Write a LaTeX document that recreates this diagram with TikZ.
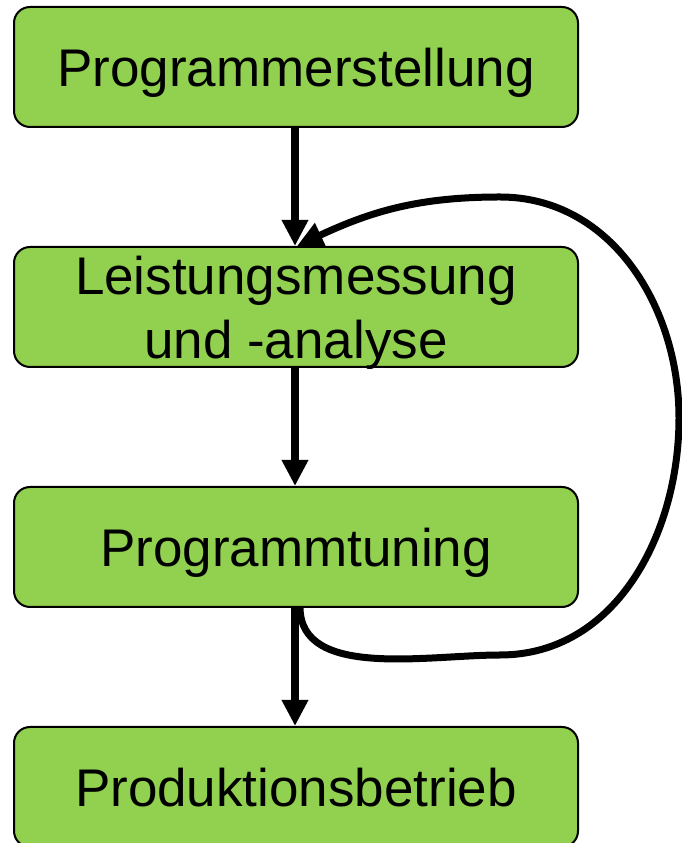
\documentclass[tikz,border=0pt]{standalone}
\usepackage{fontspec}
\setmainfont{Liberation Sans}
\usetikzlibrary{arrows.meta}
\definecolor{boxgreen}{HTML}{92D050}
\begin{document}
\begin{tikzpicture}[x=1pt,y=1pt,
  stepbox/.style={draw=black, line width=2pt, fill=boxgreen, rounded corners=16pt,
    minimum width=564pt, minimum height=120pt, inner sep=0pt, align=center,
    font=\fontsize{53}{64}\selectfont},
  oneline/.style={text height=39pt, text depth=0pt},
  flow/.style={line width=8pt, -{Triangle[width=25pt,length=26pt]}}]
\useasboundingbox (0,0) rectangle (681,843);
\begin{scope}
\clip (0,0) rectangle (681,843);
\node[stepbox, oneline] (p1) at (296,776) {Programmerstellung};
\node[stepbox, text depth=0pt] (p2) at (296,536) {Leistungsmessung\\und -analyse};
\node[stepbox, oneline] (p3) at (296,296) {Programmtuning};
\node[stepbox, oneline] (p4) at (296,56) {Produktionsbetrieb};
\end{scope}
\coordinate (s) at (300,236);
\coordinate (b) at (500,188);
\coordinate (r) at (679,425);
\coordinate (t) at (500,646);
\coordinate (e) at (297,597);
\draw[flow] (p1.south -| 295,0) -- (p2.north -| 295,0);
\draw[flow] (p2.south -| 295,0) -- (p3.north -| 295,0);
\draw[flow] (p3.south -| 295,0) -- (p4.north -| 295,0);
\draw[line width=7pt, -{Triangle[width=25pt,length=26pt]}]
  (s) to[out=-90,in=180, looseness=0.9] (b) to[out=0,in=-90] (r) to[out=90,in=0] (t) to[out=180,in=25] (e);
\end{tikzpicture}
\end{document}
